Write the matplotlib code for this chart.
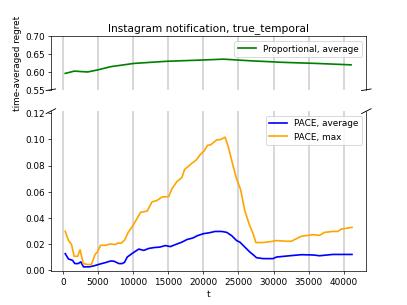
import matplotlib
matplotlib.use("Agg")
import matplotlib.pyplot as plt
import numpy as np

title = "Instagram notification, true_temporal"

t_max = [330, 800, 1230, 1600, 2100, 2450, 2900, 3500, 4060, 4580, 4900, 5380, 6090, 6700,
         7500, 7840, 8310, 8780, 9300, 9870, 10580, 11050, 12000, 12700, 13400, 14120, 15060,
         15530, 16240, 16950, 17330, 17900, 18510, 18980, 19550, 20110, 20590, 21060, 21900,
         22480, 23090, 23560, 24270, 24740, 25310, 25920, 26530, 27100, 27480, 28520, 29930,
         30410, 31830, 32530, 33950, 35600, 36550, 37260, 38440, 39150, 39620, 40560, 41170]
pace_max = [0.0297, 0.0226, 0.0196, 0.0106, 0.0106, 0.0156, 0.0050, 0.0043, 0.0043, 0.0120,
            0.0138, 0.0190, 0.0190, 0.0200, 0.0196, 0.0208, 0.0206, 0.0230, 0.0289, 0.0332,
            0.0397, 0.0442, 0.0452, 0.0523, 0.0533, 0.0560, 0.0563, 0.0623, 0.0678, 0.0709,
            0.0771, 0.0796, 0.0824, 0.0842, 0.0884, 0.0912, 0.0955, 0.0960, 0.0997, 0.1000,
            0.1018, 0.0942, 0.0791, 0.0698, 0.0616, 0.0452, 0.0352, 0.0276, 0.0211, 0.0211,
            0.0221, 0.0226, 0.0221, 0.0221, 0.0259, 0.0271, 0.0266, 0.0289, 0.0296, 0.0296,
            0.0314, 0.0322, 0.0327]

t_avg = [330, 800, 1370, 1700, 2170, 2550, 2930, 3730, 4440, 5380, 6090, 6800, 7270, 7980,
         8450, 8780, 9160, 10010, 10810, 11520, 12230, 13030, 13790, 14590, 15300, 16240,
         16950, 17660, 18510, 19170, 20020, 20870, 21670, 22620, 23330, 24030, 24740, 25210,
         25920, 26630, 27200, 27570, 28520, 29930, 30410, 32300, 33950, 35600, 36550, 38440, 41170]
pace_avg = [0.0126, 0.0085, 0.0075, 0.0050, 0.0050, 0.0063, 0.0025, 0.0025, 0.0033, 0.0048,
            0.0058, 0.0070, 0.0068, 0.0050, 0.0050, 0.0060, 0.0100, 0.0133, 0.0161, 0.0151,
            0.0166, 0.0173, 0.0176, 0.0188, 0.0180, 0.0200, 0.0214, 0.0234, 0.0246, 0.0264,
            0.0279, 0.0286, 0.0296, 0.0296, 0.0289, 0.0264, 0.0226, 0.0214, 0.0176, 0.0138,
            0.0113, 0.0095, 0.0088, 0.0088, 0.0100, 0.0110, 0.0118, 0.0116, 0.0110, 0.0120, 0.0120]

t_prop = [330, 900, 1600, 3500, 4900, 6800, 10100, 14800, 19550, 22850, 26630, 31350, 36070, 41030]
prop_avg = [0.596, 0.5987, 0.6024, 0.600, 0.6055, 0.6148, 0.624, 0.630, 0.6333, 0.636,
            0.6315, 0.627, 0.624, 0.620]

fig, (ax1, ax2) = plt.subplots(2, 1, sharex=True, figsize=(6.4, 4.8), dpi=63.6,
                               gridspec_kw={"height_ratios": [1, 3]})

ax1.plot(t_prop, prop_avg, color="green", linewidth=1.9, label="Proportional, average")
ax2.plot(t_avg, pace_avg, color="blue", linewidth=1.9, label="PACE, average")
ax2.plot(t_max, pace_max, color="orange", linewidth=1.9, label="PACE, max")

ax1.set_ylim(0.55, 0.70)
ax1.set_yticks([0.55, 0.60, 0.65, 0.70])
ax2.set_ylim(-0.001, 0.1217)
ax2.set_yticks([0.0, 0.02, 0.04, 0.06, 0.08, 0.10, 0.12])

for ax in (ax1, ax2):
    ax.grid(axis="x", color="lightgray", linewidth=2.0)
    ax.set_axisbelow(True)
    ax.legend(loc="upper right")

ax1.spines["bottom"].set_visible(False)
ax2.spines["top"].set_visible(False)
ax1.tick_params(axis="x", bottom=False, labelbottom=False)

d = 0.015
kw = dict(transform=ax1.transAxes, color="k", clip_on=False, linewidth=1)
ax1.plot((-d, +d), (-d, +d), **kw)
ax1.plot((1 - d, 1 + d), (-d, +d), **kw)
kw.update(transform=ax2.transAxes)
ax2.plot((-d, +d), (1 - d, 1 + d), **kw)
ax2.plot((1 - d, 1 + d), (1 - d, 1 + d), **kw)

ax1.set_title(title)
ax1.set_ylabel("time-averaged regret")
ax2.set_xlabel("t")

fig.savefig("out.png", dpi=63.6)
